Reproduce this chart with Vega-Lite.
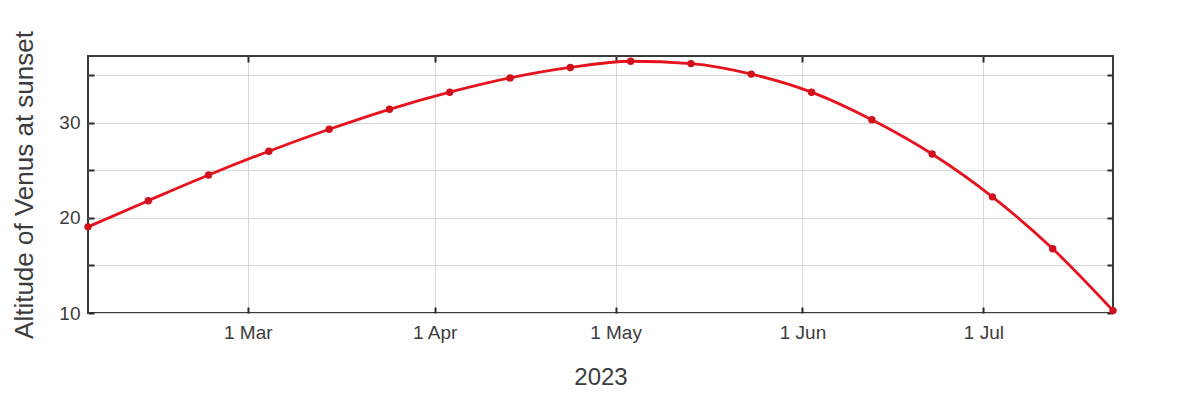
{
  "$schema": "https://vega.github.io/schema/vega-lite/v6.json",
  "width": 1025,
  "height": 257,
  "autosize": {"type": "none"},
  "padding": {"left": 88, "top": 56, "right": 73, "bottom": 92},
  "background": "white",
  "config": {
    "font": "Liberation Sans",
    "view": {"stroke": "#3a3a3a", "strokeWidth": 2},
    "axis": {
      "labelFont": "Liberation Sans",
      "titleFont": "Liberation Sans",
      "labelColor": "#3c3c3c",
      "titleColor": "#3c3c3c",
      "titleFontWeight": "normal",
      "domain": false,
      "tickColor": "#2a2a2a",
      "tickWidth": 2,
      "tickSize": -6,
      "gridColor": "#d8d8d8",
      "gridWidth": 1
    }
  },
  "data": {
    "values": [
      {"date": "2023-02-02T12:00:00", "alt": 19.05},
      {"date": "2023-02-12T12:00:00", "alt": 21.8},
      {"date": "2023-02-22T12:00:00", "alt": 24.5},
      {"date": "2023-03-04T12:00:00", "alt": 27.0},
      {"date": "2023-03-14T12:00:00", "alt": 29.3},
      {"date": "2023-03-24T12:00:00", "alt": 31.4},
      {"date": "2023-04-03T12:00:00", "alt": 33.2},
      {"date": "2023-04-13T12:00:00", "alt": 34.7},
      {"date": "2023-04-23T12:00:00", "alt": 35.8},
      {"date": "2023-05-03T12:00:00", "alt": 36.45},
      {"date": "2023-05-13T12:00:00", "alt": 36.2},
      {"date": "2023-05-23T12:00:00", "alt": 35.1},
      {"date": "2023-06-02T12:00:00", "alt": 33.2},
      {"date": "2023-06-12T12:00:00", "alt": 30.3},
      {"date": "2023-06-22T12:00:00", "alt": 26.7},
      {"date": "2023-07-02T12:00:00", "alt": 22.2},
      {"date": "2023-07-12T12:00:00", "alt": 16.75},
      {"date": "2023-07-22T12:00:00", "alt": 10.25}
    ]
  },
  "layer": [
    {
      "mark": {"type": "line", "color": "#e8121e", "strokeWidth": 2.8, "interpolate": "monotone"},
      "encoding": {
        "x": {
          "field": "date", "type": "temporal",
          "scale": {"domain": ["2023-02-02T12:00:00", "2023-07-22T12:00:00"]},
          "axis": {
            "orient": "bottom",
            "title": "2023",
            "titleFontSize": 24,
            "titlePadding": 23,
            "labelFontSize": 19,
            "labelPadding": 16,
            "format": "%-d %b",
            "tickCount": {"interval": "month", "step": 1},
            "grid": true
          }
        },
        "y": {
          "field": "alt", "type": "quantitative",
          "scale": {"domain": [10, 37], "nice": false, "zero": false},
          "axis": {
            "orient": "left",
            "title": "Altitude of Venus at sunset",
            "titleFontSize": 26,
            "titlePadding": 21,
            "labelFontSize": 19,
            "labelPadding": 14,
            "values": [10, 15, 20, 25, 30, 35],
            "labelExpr": "datum.value % 10 == 0 ? datum.label : ''",
            "grid": true
          }
        }
      }
    },
    {
      "mark": {"type": "point", "filled": true, "color": "#d0101c", "size": 55, "opacity": 1},
      "encoding": {
        "x": {
          "field": "date", "type": "temporal",
          "axis": {
            "orient": "top",
            "title": null,
            "labels": false,
            "tickCount": {"interval": "month", "step": 1},
            "grid": false
          }
        },
        "y": {
          "field": "alt", "type": "quantitative",
          "axis": {
            "orient": "right",
            "title": null,
            "labels": false,
            "values": [10, 15, 20, 25, 30, 35],
            "grid": false
          }
        }
      }
    }
  ],
  "resolve": {"axis": {"x": "independent", "y": "independent"}}
}
